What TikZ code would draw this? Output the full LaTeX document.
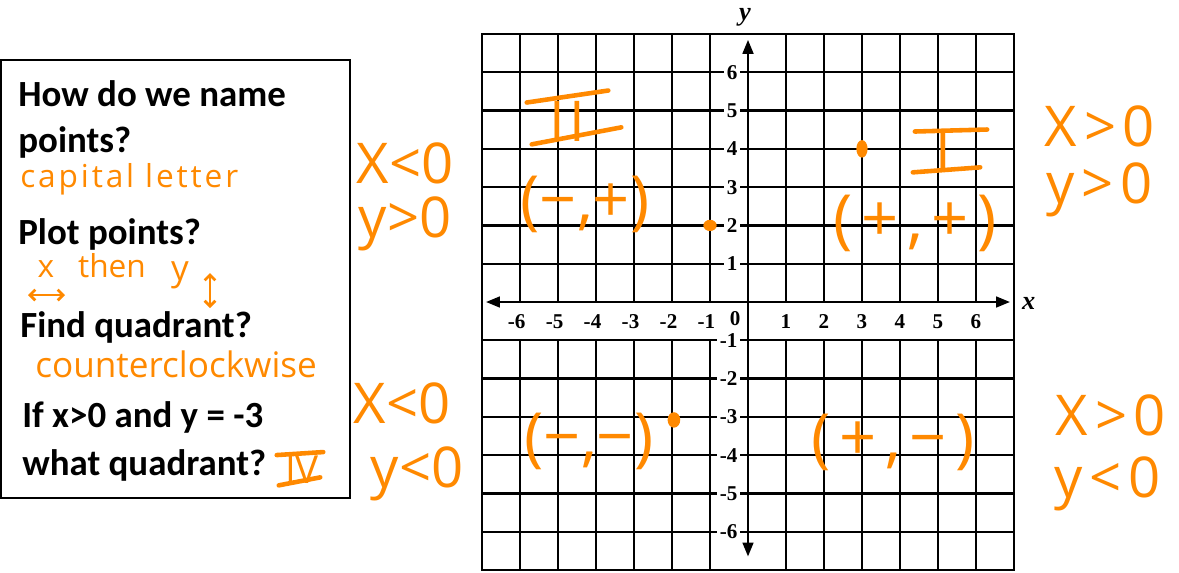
\documentclass[tikz,border=0pt]{standalone}
\usepackage{fontspec}
\usetikzlibrary{arrows.meta}
\setmainfont{Liberation Serif}
\newfontfamily\boxfont{Carlito}
\newfontfamily\hwfont{Open Sans}
\definecolor{hworange}{RGB}{255,137,0}
\tikzset{
  boxtext/.style={anchor=base west,inner sep=0pt,font=\boxfont\bfseries\fontsize{21}{24}\selectfont},
  hw/.style={text=hworange,inner sep=0pt},
  hwbig/.style={hw,anchor=base,font=\hwfont\fontsize{32}{32}\selectfont},
  hwwide/.style={hw,anchor=base,font={\hwfont\fontsize{32}{32}\selectfont\addfontfeature{LetterSpace=12}}},
  hwparen/.style={hw,anchor=base,font=\hwfont\fontsize{37}{37}\selectfont},
  hwstroke/.style={draw=hworange,line width=2.6pt,line cap=round},
  hwarrow/.style={draw=hworange,line width=1.6pt,line cap=round,
    {Straight Barb[length=3pt,width=6pt]}-{Straight Barb[length=3pt,width=6pt]}},
  gridline/.style={line width=1.3pt},
  axisline/.style={line width=1.6pt},
  ticklabel/.style={font=\bfseries\fontsize{12}{13}\selectfont,inner sep=1.5pt,fill=white}
}
\begin{document}
\begin{tikzpicture}[x=0.02cm,y=-0.02cm,>={Triangle[length=8pt,width=6pt]}]
  \useasboundingbox (0,0) rectangle (1179,572);

  % question box
  \draw[line width=1.4pt] (1,60) rectangle (350,498);
  \node[boxtext] (qname)  at (18,106) {How do we name};
  \node[boxtext] (qnameb) at (18,152) {points?};
  \node[boxtext] (qplot)  at (18,244) {Plot points?};
  \node[boxtext] (qfind)  at (20,337) {Find quadrant?};
  \node[boxtext] (qif)    at (22,427) {If x>0 and y = -3};
  \node[boxtext] (qwhat)  at (22,475) {what quadrant?};

  % answers in the box
  \node[hw,anchor=base west,font={\hwfont\fontsize{18}{18}\selectfont\addfontfeature{LetterSpace=9}}]
    (acap) at (20,187) {capital letter};
  \node[hw,anchor=base,font=\hwfont\fontsize{18}{18}\selectfont] (ax) at (46,277) {x};
  \node[hw,anchor=base,font=\hwfont\fontsize{18}{18}\selectfont] (athen) at (112,277) {then};
  \node[hw,anchor=base,font=\hwfont\fontsize{20}{20}\selectfont] (ay) at (180,280) {y};
  \coordinate (lrA) at (28,295);
  \coordinate (lrB) at (65,295);
  \coordinate (udA) at (210,273);
  \coordinate (udB) at (210,308);
  \draw[hwarrow] (lrA) -- (lrB);
  \draw[hwarrow] (udA) -- (udB);
  \node[hw,anchor=base west,font=\hwfont\fontsize{20}{20}\selectfont] (aclock) at (35,377) {counterclockwise};
  \node[hw,anchor=base,font=\hwfont\fontsize{22}{22}\selectfont] (numIV) at (302,483) {IV};
  \draw[hwstroke] ([shift={(-8,0)}]numIV.north west) -- ([shift={(4,-3)}]numIV.north east);
  \draw[hwstroke] ([shift={(-6,2)}]numIV.south west) -- ([shift={(1,-6)}]numIV.south east);

  % signs beside the grid
  \node[hwbig] (lxa) at (405,183) {X<0};
  \node[hwbig] (lya) at (405,237) {y>0};
  \node[hwbig] (lxb) at (402,423) {X<0};
  \node[hwbig] (lyb) at (417,487) {y<0};
  \node[hwwide] (rxa) at (1100,146) {X>0};
  \node[hwwide] (rya) at (1100,203) {y>0};
  \node[hwwide] (rxb) at (1111,435) {X>0};
  \node[hwwide] (ryb) at (1108,497) {y<0};

  % coordinate grid
  \begin{scope}[shift={(748,302)},x=0.76cm,y=0.766cm]
    \foreach \i in {-6,...,-1,1,2,...,6}
      \draw[gridline] (\i,-7) -- (\i,-1) (\i,0) -- (\i,7);
    \foreach \j in {-6,...,-1,1,2,...,6}
      \draw[gridline] (-7,\j) -- (7,\j);
    \draw[axisline] (-7,-7) rectangle (7,7);
    \draw[axisline,<->] (-6.9,0) -- (6.9,0);
    \draw[axisline,<->] (0,-6.65) -- (0,6.85);
    \foreach \i in {1,...,6} {
      \node[ticklabel] (xp\i) at (\i,-0.52) {\i};
      \node[ticklabel] (xm\i) at (-\i,-0.52) {\llap{-}\i};
      \node[ticklabel,anchor=east] (yp\i) at (-0.2,\i) {\i};
      \node[ticklabel,anchor=east] (ym\i) at (-0.2,-\i) {-\i};
    }
    \node[ticklabel] (orig) at (-0.34,-0.42) {0};
    \node[font=\bfseries\itshape\fontsize{15}{15}\selectfont] (ylab) at (-0.08,7.44) {y};
    \node[font=\bfseries\itshape\fontsize{15}{15}\selectfont] (xlab) at (7.39,-0.03) {x};
    % plotted points
    \fill[hworange] (3,4) ellipse [x radius=3.2pt,y radius=5pt];
    \fill[hworange] (-1,2) ellipse [x radius=3.8pt,y radius=3.2pt];
    \fill[hworange] (-1.95,-3.08) ellipse [x radius=3.6pt,y radius=4.4pt];
  \end{scope}

  % quadrant notes
  \node[hw,anchor=base,font={\hwfont\fontsize{32}{32}\selectfont\addfontfeature{LetterSpace=8}}]
    (numII) at (567,141) {II};
  \draw[hwstroke] ([shift={(-22,2)}]numII.north west) -- ([shift={(23,-10)}]numII.north east);
  \draw[hwstroke] ([shift={(-17,3)}]numII.south west) -- ([shift={(36,-14)}]numII.south east);
  \node[hw,anchor=base,font=\hwfont\fontsize{32}{32}\selectfont] (numI) at (943,170) {I};
  \draw[hwstroke] ([shift={(-20,2)}]numI.north west) -- ([shift={(36,0)}]numI.north east);
  \draw[hwstroke] ([shift={(-22,2)}]numI.south west) -- ([shift={(29,-3)}]numI.south east);
  \node[hwparen] (sgnII) at (585,222) {(−,+)};
  \node[hwparen,font={\hwfont\fontsize{37}{37}\selectfont\addfontfeature{LetterSpace=13}}]
    (sgnI) at (915,241) {(+,+)};
  \node[hwparen] (sgnIII) at (589,459) {(−,−)};
  \node[hwparen,font={\hwfont\fontsize{37}{37}\selectfont\addfontfeature{LetterSpace=13}}]
    (sgnIV) at (893,460) {(+,−)};
\end{tikzpicture}
\end{document}
